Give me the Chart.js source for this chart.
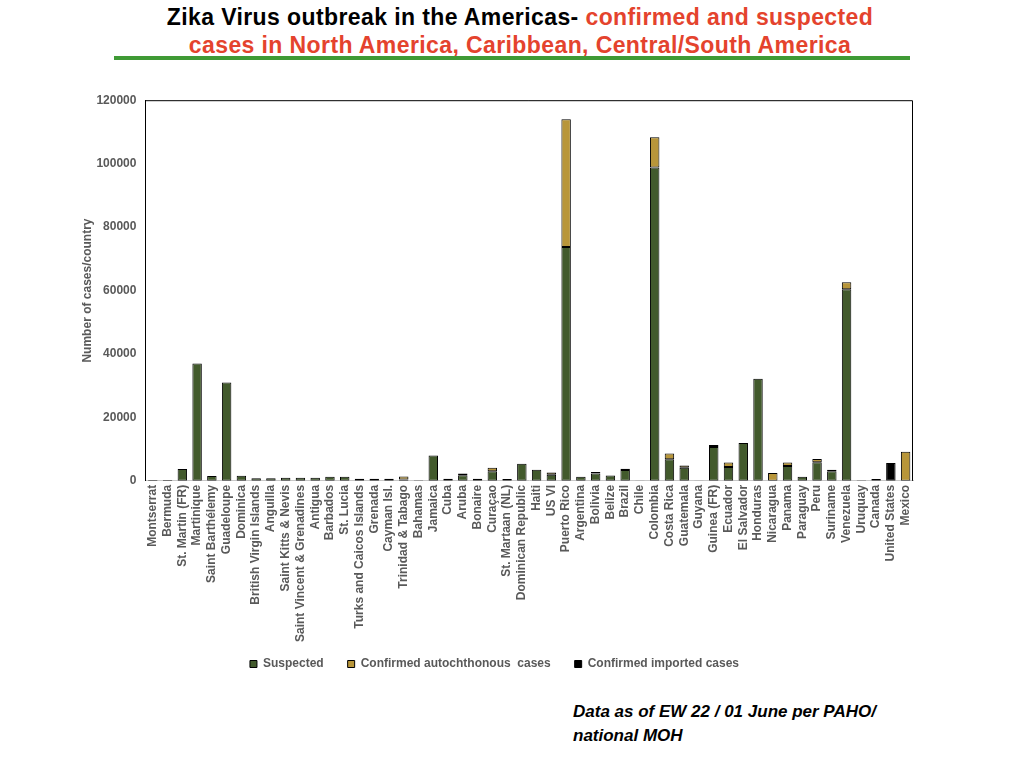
<!DOCTYPE html>
<html>
<head>
<meta charset="utf-8">
<script src="https://cdn.jsdelivr.net/npm/chart.js@4/dist/chart.umd.min.js"></script>
<style>
  html, body { margin: 0; padding: 0; background: #fff; }
  body { width: 1024px; height: 768px; position: relative; overflow: hidden; font-family: "Liberation Sans", Arial, sans-serif; }
  #title {
    position: absolute; left: 0; width: 1040px; top: 3px;
    text-align: center; font-weight: bold; font-size: 23px; line-height: 28px; letter-spacing: 0.4px;
    color: #000;
  }
  #title .red { color: #e4432d; }
  #rule { position: absolute; left: 114px; width: 796px; top: 56px; height: 4px; background: #3f9a35; }
  #wrap { position: absolute; left: 76px; top: 84px; width: 870px; height: 596px; }
  #note {
    position: absolute; left: 573px; top: 700px; font-size: 17px; line-height: 24px;
    font-weight: bold; font-style: italic; color: #000;
  }
</style>
</head>
<body>
<div id="title">Zika Virus outbreak in the Americas- <span class="red">confirmed and suspected</span><br><span class="red">cases in North America, Caribbean, Central/South America</span></div>
<div id="rule"></div>
<div id="wrap"><canvas id="chart" width="870" height="596"></canvas></div>
<div id="note">Data as of EW 22 / 01 June per PAHO/<br>national MOH</div>
<script>
// --- DATA ---

const countries = [
  'Montserrat', 'Bermuda', 'St. Martin (FR)', 'Martinique', 'Saint Barthélemy', 'Guadeloupe',
  'Dominica', 'British Virgin Islands', 'Anguilla', 'Saint Kitts & Nevis', 'Saint Vincent & Grenadines',
  'Antigua', 'Barbados', 'St. Lucia', 'Turks and Caicos Islands', 'Grenada', 'Cayman Isl.',
  'Trinidad & Tabago', 'Bahamas', 'Jamaica', 'Cuba', 'Aruba', 'Bonaire', 'Curaçao', 'St. Martaan (NL)',
  'Dominican Republic', 'Haiti', 'US VI', 'Puerto Rico', 'Argentina', 'Bolivia', 'Belize', 'Brazil',
  'Chile', 'Colombia', 'Costa Rica', 'Guatemala', 'Guyana', 'Guinea (FR)', 'Ecuador', 'El Salvador',
  'Honduras', 'Nicaragua', 'Panama', 'Paraguay', 'Peru', 'Suriname', 'Venezuela', 'Uruquay',
  'Canada', 'United States', 'Mexico'
];

const suspected = [
  300, 300, 3700, 37000, 1500, 31000,
  1600, 800, 800, 1000, 1000,
  1000, 1300, 1300, 700, 700, 700,
  400, 200, 8000, 700, 1800, 700, 3000, 600,
  5400, 3500, 1900, 73700, 1300, 2300, 1700, 3400,
  100, 98800, 6800, 4100, 100, 10700, 4400, 11900,
  32200, 0, 4700, 1300, 5900, 3000, 60400, 0,
  0, 0, 0
];

const confirmedLocal = [
  0, 0, 0, 0, 0, 0,
  0, 0, 0, 0, 0,
  0, 0, 0, 0, 0, 0,
  1000, 0, 0, 0, 500, 0, 1100, 0,
  0, 0, 700, 40300, 0, 500, 0, 400,
  0, 9500, 1800, 700, 0, 600, 1400, 0,
  0, 2500, 1100, 0, 1000, 500, 2200, 0,
  0, 0, 9200
];

const confirmedImported = [
  0, 0, 0, 0, 0, 0,
  0, 0, 0, 0, 0,
  0, 0, 0, 0, 0, 0,
  0, 0, 0, 0, 0, 0, 0, 0,
  0, 0, 0, 0, 0, 0, 0, 0,
  0, 0, 0, 0, 0, 0, 0, 0,
  0, 0, 0, 0, 0, 0, 0, 200,
  600, 5600, 0
];

const yTicks = [0, 20000, 40000, 60000, 80000, 100000, 120000];

const GREY = '#595959';
const FONT = '"Liberation Sans", Arial, sans-serif';

// top and right edges of the plot frame
const frameLines = {
  id: 'frameLines',
  afterDraw(chart) {
    const { ctx, chartArea: a } = chart;
    ctx.save();
    ctx.strokeStyle = '#000';
    ctx.lineWidth = 1;
    ctx.beginPath();
    ctx.moveTo(a.left, a.top + 0.5);
    ctx.lineTo(a.right - 0.5, a.top + 0.5);
    ctx.lineTo(a.right - 0.5, a.bottom);
    ctx.stroke();
    ctx.restore();
  }
};

function makeSet(label, data, color) {
  return {
    label: label,
    data: data,
    backgroundColor: color,
    borderColor: '#000',
    borderWidth: 1,
    borderSkipped: false,
    categoryPercentage: 1,
    barPercentage: 0.64
  };
}

// default legend items, with an em space after the first texts to widen the gaps
const defaultLabels = Chart.defaults.plugins.legend.labels.generateLabels;
function spacedLabels(chart) {
  const items = defaultLabels(chart);
  return items.map((item, i) => ({ ...item, text: i < items.length - 1 ? item.text + '\u2003' : item.text }));
}

new Chart(document.getElementById('chart'), {
  type: 'bar',
  data: {
    labels: countries,
    datasets: [
      makeSet('Suspected', suspected, '#425a2c'),
      makeSet('Confirmed autochthonous  cases', confirmedLocal, '#b8963a'),
      makeSet('Confirmed imported cases', confirmedImported, '#000')
    ]
  },
  options: {
    responsive: false,
    animation: false,
    layout: { padding: { top: 3, right: 33, left: 0, bottom: 0 } },
    plugins: {
      legend: {
        position: 'bottom',
        labels: {
          color: GREY,
          font: { family: FONT, size: 12, weight: 'bold' },
          boxWidth: 7, boxHeight: 7, padding: 12,
          generateLabels: spacedLabels
        }
      },
      tooltip: { enabled: false }
    },
    scales: {
      x: {
        stacked: true,
        grid: { display: false, drawTicks: false },
        border: { display: true, color: '#c8c8c8', width: 1 },
        ticks: {
          color: GREY, autoSkip: false, minRotation: 90, maxRotation: 90, padding: 4,
          font: { family: FONT, size: 12, weight: 'bold' }
        }
      },
      y: {
        stacked: true,
        min: 0, max: 120000,
        afterBuildTicks(axis) { axis.ticks = yTicks.map(v => ({ value: v })); },
        grid: { display: false, drawTicks: false },
        border: { display: true, color: '#000', width: 1 },
        ticks: {
          color: GREY, padding: 9,
          font: { family: FONT, size: 12, weight: 'bold' },
          callback: v => String(v)
        },
        title: {
          display: true, text: 'Number of cases/country', color: GREY,
          font: { family: FONT, size: 12, weight: 'bold' }, padding: { top: 4, bottom: -7 }
        }
      }
    }
  },
  plugins: [frameLines]
});
</script>
</body>
</html>
